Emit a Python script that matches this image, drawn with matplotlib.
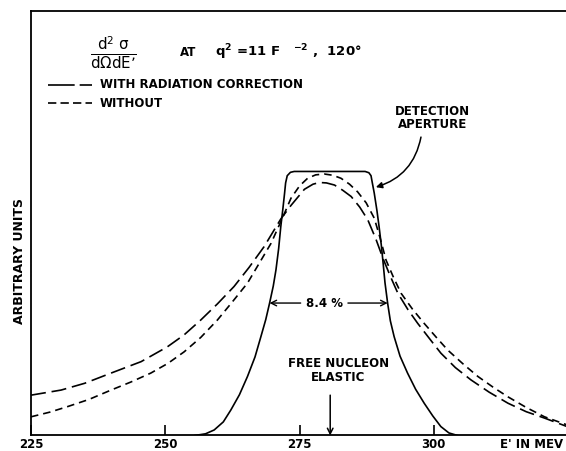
import matplotlib
matplotlib.use("Agg")
import matplotlib.pyplot as plt

# ---------- Data ----------
# detection aperture (solid)
aperture_e = [255.5, 257.5, 259.1, 260.8, 262.2, 263.8, 265.3, 266.7, 267.8, 268.7,
              269.4, 270.1, 270.6, 271.1, 271.5, 271.9, 272.2, 272.4, 272.7, 273.3,
              274.0, 287.2, 287.9, 288.3, 288.5, 288.9, 289.4, 289.8, 290.2, 290.5,
              290.9, 291.4, 291.9, 292.6, 293.7, 295.1, 296.6, 298.2, 299.8, 301.3,
              302.8, 304.4]
aperture_y = [0.0, 0.4, 1.3, 3.2, 6.0, 9.6, 13.9, 18.5, 23.3, 27.3,
              31.1, 35.2, 39.0, 44.0, 49.2, 53.5, 57.0, 59.5, 61.2, 62.0,
              62.2, 62.2, 61.9, 61.2, 59.8, 57.1, 53.0, 49.2, 45.0, 41.3,
              36.0, 31.1, 27.0, 23.3, 18.7, 14.7, 10.9, 7.6, 4.6, 2.1,
              0.6, 0.0]

# with radiation correction (long dash)
with_e = [225.0, 230.6, 235.0, 239.9, 245.5, 250.4, 253.5, 256.6, 259.7, 262.8,
          265.6, 268.4, 271.5, 273.4, 275.9, 277.5, 278.7, 280.0, 281.5, 283.0,
          284.6, 286.2, 287.7, 289.2, 290.5, 291.9, 293.3, 295.2, 297.0, 299.2,
          301.3, 304.0, 306.9, 310.3, 313.8, 317.2, 320.6, 324.8]
with_y = [9.5, 10.7, 12.3, 14.7, 17.4, 20.9, 23.7, 27.2, 31.0, 35.1,
          39.6, 44.5, 51.0, 54.2, 58.0, 59.2, 59.6, 59.5, 59.0, 57.8,
          56.3, 53.8, 50.8, 46.3, 41.8, 37.5, 33.5, 29.6, 26.4, 22.8,
          19.4, 16.0, 13.1, 10.2, 7.6, 5.6, 4.1, 2.1]

# without correction (short dash)
without_e = [225.0, 228.5, 231.8, 235.8, 239.9, 243.6, 247.3, 250.5, 253.5, 256.6,
             259.7, 262.5, 265.3, 267.5, 269.7, 271.9, 273.4, 275.0, 276.5, 278.0,
             279.6, 281.2, 282.7, 284.3, 285.8, 287.4, 288.9, 290.0, 291.1, 292.5,
             293.9, 296.0, 298.2, 300.4, 302.6, 305.4, 308.2, 311.0, 313.8, 317.2,
             320.6, 324.8]
without_y = [4.4, 5.5, 6.8, 8.5, 10.7, 12.6, 14.7, 17.0, 19.7, 23.1,
             27.2, 31.5, 35.9, 40.6, 45.3, 51.5, 55.9, 58.8, 60.6, 61.4,
             61.6, 61.3, 60.6, 59.2, 57.4, 54.8, 51.2, 46.5, 41.3, 37.2,
             33.5, 29.8, 26.4, 23.2, 20.1, 16.9, 13.9, 11.4, 9.1, 6.6,
             4.4, 2.5]

xticks = [225, 250, 275, 300]
elastic_e = 280.7
width_left, width_right, width_level = 269.4, 291.4, 31.2

plt.rcParams["font.family"] = ["DejaVu Sans"]
plt.rcParams["mathtext.default"] = "regular"

fig = plt.figure(figsize=(5.66, 4.51), dpi=100)
ax = fig.add_axes([0.0548, 0.0344, 0.9452, 0.9412])

LW = 1.2
LONG = (9, 3.5)
SHORT = (4.5, 3)
ax.plot(aperture_e, aperture_y, color="black", lw=LW, solid_joinstyle="round")
ax.plot(with_e, with_y, color="black", lw=LW, dashes=LONG)
ax.plot(without_e, without_y, color="black", lw=LW, dashes=SHORT)

ax.set_xlim(225, 324.6)
ax.set_ylim(0, 100)
ax.spines["right"].set_visible(False)
for s in ["left", "top", "bottom"]:
    ax.spines[s].set_linewidth(1.3)
ax.set_xticks(xticks)
ax.set_xticklabels([str(t) for t in xticks], fontweight="bold", fontsize=8.5)
ax.tick_params(axis="x", direction="in", length=7, width=1.2, pad=1.5)
ax.set_yticks([])

# axis labels
ax.text(0.995, -0.006, "E' IN MEV", transform=ax.transAxes, ha="right", va="top",
        fontsize=8.5, fontweight="bold")
ax.text(-0.021, 0.41, "ARBITRARY UNITS", transform=ax.transAxes, rotation=90,
        ha="center", va="center", fontsize=9, fontweight="bold")

# title block
ax.text(0.155, 0.903, r"$\frac{d^{2}\ \sigma}{d\Omega dE’}$", transform=ax.transAxes,
        ha="center", va="center", fontsize=15.5)
ax.text(0.278, 0.903, "AT", transform=ax.transAxes, ha="left", va="center",
        fontsize=8.5, fontweight="bold")
ax.text(0.344, 0.903, r"q$^{2}$ =11 F   $^{-2}$ ,  120°", transform=ax.transAxes,
        ha="left", va="center", fontsize=9.5, fontweight="bold")

# legend
ax.plot([0.032, 0.114], [0.826, 0.826], transform=ax.transAxes, color="black",
        lw=LW, dashes=(16, 3))
ax.plot([0.032, 0.114], [0.783, 0.783], transform=ax.transAxes, color="black",
        lw=LW, dashes=(5, 2.5))
ax.text(0.129, 0.826, "WITH RADIATION CORRECTION", transform=ax.transAxes,
        ha="left", va="center", fontsize=8.5, fontweight="bold")
ax.text(0.129, 0.783, "WITHOUT", transform=ax.transAxes,
        ha="left", va="center", fontsize=8.5, fontweight="bold")

# detection aperture label + curved arrow
ax.text(0.75, 0.748, "DETECTION\nAPERTURE", transform=ax.transAxes, ha="center",
        va="center", fontsize=8.5, fontweight="bold", linespacing=1.05)
ax.annotate("", xy=(289.2, 58.5), xytext=(297.6, 70.3),
            arrowprops=dict(arrowstyle="-|>", color="black", lw=1.1,
                            connectionstyle="arc3,rad=-0.3", mutation_scale=9,
                            shrinkA=0, shrinkB=0))

# width marker
ax.text(279.7, width_level, "8.4 %", ha="center", va="center", fontsize=8.5,
        fontweight="bold")
ax.annotate("", xy=(width_left, width_level), xytext=(275.2, width_level),
            arrowprops=dict(arrowstyle="->", color="black", lw=1.0, shrinkA=0, shrinkB=0))
ax.annotate("", xy=(width_right, width_level), xytext=(284.0, width_level),
            arrowprops=dict(arrowstyle="->", color="black", lw=1.0, shrinkA=0, shrinkB=0))

# free nucleon elastic
ax.text(282.2, 15.2, "FREE NUCLEON\nELASTIC", ha="center", va="center", fontsize=8.5,
        fontweight="bold", linespacing=1.1)
ax.annotate("", xy=(elastic_e, 0), xytext=(elastic_e, 9.5),
            arrowprops=dict(arrowstyle="->", color="black", lw=1.1, shrinkA=0, shrinkB=0))

fig.savefig("out.png", dpi=100)
